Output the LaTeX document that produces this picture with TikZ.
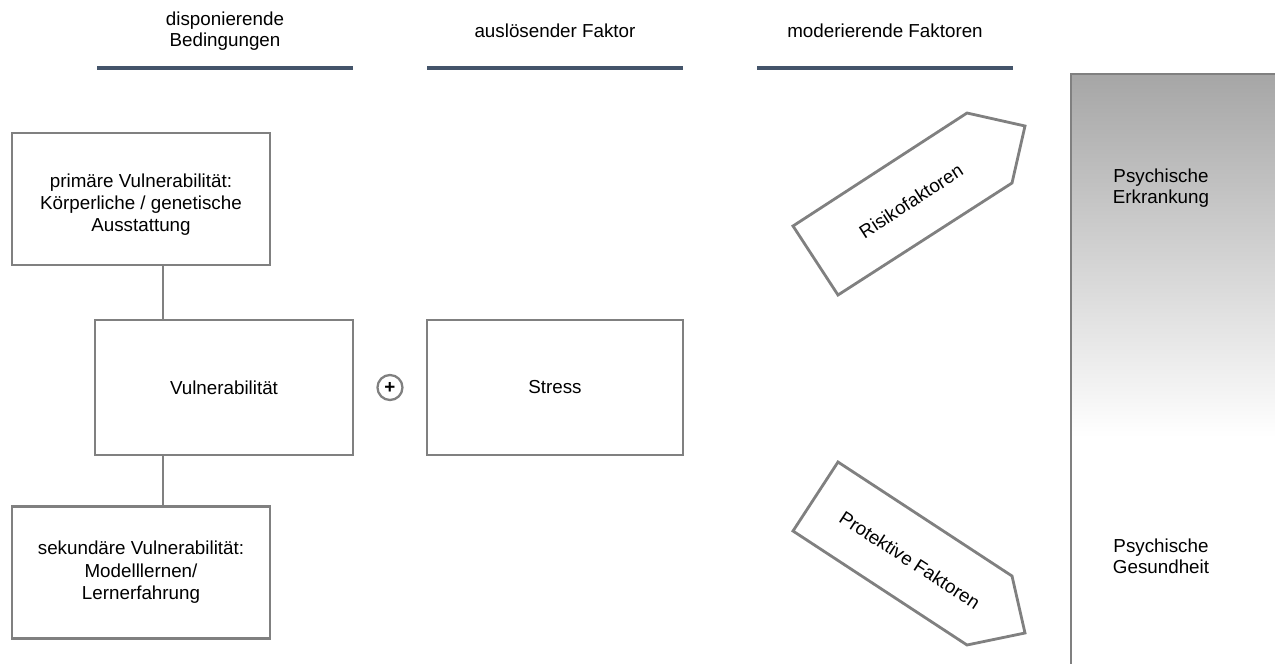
\documentclass[tikz,border=0pt]{standalone}
\usepackage{fontspec}
\setmainfont{Liberation Sans}
\usetikzlibrary{positioning,calc}

\definecolor{boxgray}{HTML}{808080}
\definecolor{headblue}{HTML}{44546A}
\definecolor{bartop}{HTML}{A6A6A6}

\pgfdeclareverticalshading{barfade}{100bp}{color(0bp)=(white); color(46bp)=(white); color(75bp)=(bartop); color(100bp)=(bartop)}

\tikzset{
	box/.style={draw=boxgray, line width=1.6pt, minimum width=5.16cm, minimum height=2.64cm, align=center, inner sep=0pt, outer sep=0pt, font=\fontsize{10.7pt}{12.8pt}\selectfont},
	link/.style={draw=boxgray, line width=1.6pt},
	headline/.style={draw=headblue, line width=2pt},
	head/.style={align=center},
	arrowshape/.style={draw=boxgray, line width=1.6pt, line join=miter},
}

\begin{document}
\begin{tikzpicture}[x=0.02cm, y=-0.02cm, font=\fontsize{10.7pt}{12pt}\selectfont]
				\useasboundingbox (0,0) rectangle (1275,663);
				\clip (0,0) rectangle (1275,663);
				
				% Spaltenkoepfe
				\node[head] (h1) at (225,31) {disponierende\\Bedingungen};
				\node[head] (h2) at (555,31) {ausl\"osender Faktor};
				\node[head] (h3) at (885,31) {moderierende Faktoren};
				\draw[headline] (97,68)--(353,68);
				\draw[headline] (427,68)--(683,68);
				\draw[headline] (757,68)--(1013,68);
				
				% Vulnerabilitaet
				\node[box] (prim) at (141,199) {\raisebox{-0.12cm}[\height][\depth]{\begin{tabular}{@{}c@{}}prim\"are Vulnerabilit\"at:\\K\"orperliche / genetische\\Ausstattung\end{tabular}}};
				\node[box, minimum height=2.7cm] (vuln) at (224,387.5) {Vulnerabilit\"at};
				\node[box] (sek) at (141,572.5) {sekund\"are Vulnerabilit\"at:\\Modelllernen/\\Lernerfahrung};
				\draw[link] ([xshift=0.44cm]prim.south) -- ([xshift=0.44cm]prim.south |- vuln.north);
				\draw[link] ([xshift=0.44cm]sek.north |- vuln.south) -- ([xshift=0.44cm]sek.north);
				
				% Stress
				\node[box, minimum width=5.12cm, minimum height=2.7cm, right=1.48cm of vuln] (stress) {Stress};
				\node[draw=boxgray, line width=1.3pt, circle, minimum size=0.5cm, inner sep=0pt] (plus) at ($(vuln.east)!0.5!(stress.west)$) {\textbf{+}};
				
				% moderierende Faktoren
				\draw[arrowshape] (793,226) -- (838,295) -- (1012,183) -- (1025,126) -- (967,113) -- cycle;
				\node[rotate=33, inner sep=0pt] (risk) at (911,201) {Risikofaktoren};
				\draw[arrowshape] (838,462) -- (793,531) -- (967,645) -- (1025,633) -- (1012,576) -- cycle;
				\node[rotate=-33, inner sep=0pt] (prot) at (910,560) {Protektive Faktoren};
				
				% Balken
				\shade[shading=barfade] (1071,74) rectangle (1300,700);
				\draw[link] (1071,700) -- (1071,74) -- (1300,74);
				\node[head] (krank) at (1161,188) {Psychische\\Erkrankung};
				\node[head] (gesund) at (1161,556) {Psychische\\Gesundheit};
				
			\end{tikzpicture}
\end{document}
